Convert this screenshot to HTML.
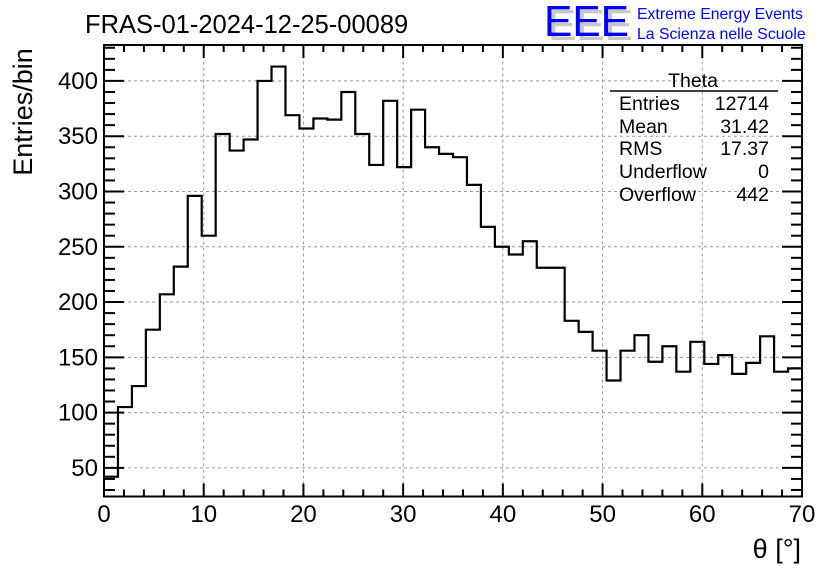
<!DOCTYPE html>
<html><head><meta charset="utf-8"><style>
body{margin:0;background:#fff;}
svg{display:block;font-family:"Liberation Sans",sans-serif;}
</style></head><body>
<svg id="c" width="836" height="572" viewBox="0 0 836 572">
<g id="grid"></g>
<g id="axes"></g>
<path id="hist" fill="none" stroke="#000" stroke-width="2.2"/>
<text x="85" y="33" font-size="25.5">FRAS-01-2024-12-25-00089</text>
<text x="32" y="112" font-size="27" text-anchor="middle" transform="rotate(-90 32 112)">Entries/bin</text>
<text x="801" y="558" font-size="27" text-anchor="end">θ [°]</text>
<g>
<text x="548" y="40" font-size="44" fill="#c8c8c8" textLength="85" lengthAdjust="spacingAndGlyphs">EEE</text>
<text x="544" y="36" font-size="44" fill="#0000ff" textLength="85" lengthAdjust="spacingAndGlyphs">EEE</text>
<text x="637" y="19" font-size="15.8" fill="#0000ff">Extreme Energy Events</text>
<text x="637" y="39" font-size="15.8" fill="#0000ff">La Scienza nelle Scuole</text>
</g>
<g font-size="19.5">
<text x="693" y="87" text-anchor="middle">Theta</text>
<line x1="610" y1="91" x2="778" y2="91" stroke="#000" stroke-width="1.5"/>
<text x="619" y="110">Entries</text><text x="769" y="110" text-anchor="end">12714</text>
<text x="619" y="133">Mean</text><text x="769" y="133" text-anchor="end">31.42</text>
<text x="619" y="155">RMS</text><text x="769" y="155" text-anchor="end">17.37</text>
<text x="619" y="178">Underflow</text><text x="769" y="178" text-anchor="end">0</text>
<text x="619" y="201">Overflow</text><text x="769" y="201" text-anchor="end">442</text>
</g>
</svg>
<script>
const binWidth = 1.4;
const counts = [42,105,124,175,207,232,296,260,352,337,347,400,413,369,357,366,365,390,352,324,382,322,374,340,334,331,306,268,250,243,255,231,231,183,173,156,129,156,170,146,160,137,164,144,152,135,145,169,137,140];
const xTicks = [0,10,20,30,40,50,60,70];
const yTicks = [50,100,150,200,250,300,350,400];
const X0=104,X1=802,Y0=496.5,Y1=45;
const xmin=0,xmax=70,ymin=24.1,ymax=432.5;
const sx=v=>X0+(v-xmin)/(xmax-xmin)*(X1-X0);
const sy=v=>Y0-(v-ymin)/(ymax-ymin)*(Y0-Y1);
const NS='http://www.w3.org/2000/svg';
function mk(t,a,p){const e=document.createElementNS(NS,t);for(const k in a)e.setAttribute(k,a[k]);p.appendChild(e);return e;}
const grid=document.getElementById('grid'),axes=document.getElementById('axes');
xTicks.forEach(t=>{if(t>xmin&&t<xmax){const l=mk('line',{x1:sx(t),x2:sx(t),y1:Y0,y2:Y1,stroke:'#999','stroke-dasharray':'3,3','stroke-width':1},grid);

}});
yTicks.forEach(t=>{const l=mk('line',{x1:X0,x2:X1,y1:sy(t),y2:sy(t),stroke:'#999','stroke-dasharray':'3,3','stroke-width':1},grid);

});
const fr=mk('rect',{x:X0,y:Y1,width:X1-X0,height:Y0-Y1,fill:'none',stroke:'#000','stroke-width':2},axes);


for(let v=0;v<=70;v+=2){const maj=v%10===0,L=maj?13:7;
mk('line',{x1:sx(v),x2:sx(v),y1:Y0,y2:Y0-L,stroke:'#000','stroke-width':2},axes);
mk('line',{x1:sx(v),x2:sx(v),y1:Y1,y2:Y1+L,stroke:'#000','stroke-width':2},axes);}
for(let v=30;v<=430;v+=10){const maj=v%50===0,L=maj?20:11;
mk('line',{x1:X0,x2:X0+L,y1:sy(v),y2:sy(v),stroke:'#000','stroke-width':2},axes);
mk('line',{x1:X1,x2:X1-L,y1:sy(v),y2:sy(v),stroke:'#000','stroke-width':2},axes);}
xTicks.forEach(t=>{const e=mk('text',{x:sx(t),y:522,'font-size':24,'text-anchor':'middle'},axes);e.textContent=t;

});
yTicks.forEach(t=>{const e=mk('text',{x:98,y:sy(t)+8,'font-size':24,'text-anchor':'end'},axes);e.textContent=t;

});
let d='';counts.forEach((c,i)=>{const a=sx(i*binWidth),b=sx((i+1)*binWidth),y=sy(c);
d+=(i===0?'M'+a+','+y:'L'+a+','+y)+'L'+b+','+y;});
document.getElementById('hist').setAttribute('d',d);
</script>
</body></html>
